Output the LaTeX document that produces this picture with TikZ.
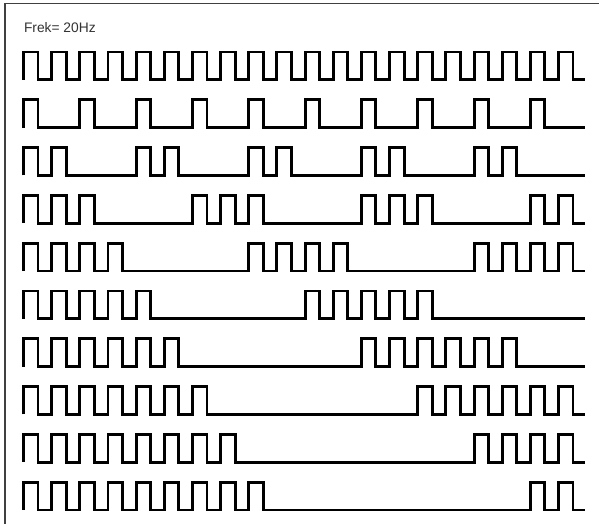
\documentclass[tikz,border=0pt]{standalone}
\usepackage{fontspec}
\setmainfont{Liberation Sans}
\begin{document}
\begin{tikzpicture}[x=1pt,y=-1pt,
  wave/.style={line width=2.9pt, line join=miter, draw=black},
  frame/.style={line width=1.4pt, draw=black!75},
  label/.style={anchor=base west, inner sep=0pt, text=black!80, font=\fontsize{13.8}{16}\selectfont}]
\useasboundingbox (0,0) rectangle (599,523);
\fill[white] (0,0) rectangle (599,523);
\draw[frame] (5,530) -- (5,3.5) -- (610,3.5);
\node[label] (title) at (23.8,32.3) {Frek= 20Hz};
\foreach \r in {1,...,10} {
  \pgfmathsetmacro\yt{52+(\r-1)*47.8}
  \pgfmathsetmacro\yb{\yt+27.8}
  \pgfmathtruncatemacro\n{max(\r-1,1)}
  \pgfmathtruncatemacro\per{max(2*(\r-1),1)}
  \xdef\wpath{(23.5,\yb)}
  \foreach \i in {0,...,19} {
    \pgfmathtruncatemacro\on{mod(\i,\per)<\n}
    \pgfmathsetmacro\xa{23.5+\i*28.16}
    \pgfmathsetmacro\xb{\xa+14.5}
    \pgfmathsetmacro\xc{ifthenelse(\i==19,585,\xa+28.16)}
    \ifnum\on=1
      \xdef\wpath{\wpath -- (\xa,\yt) -- (\xb,\yt) -- (\xb,\yb) -- (\xc,\yb)}
    \else
      \xdef\wpath{\wpath -- (\xc,\yb)}
    \fi
  }
  \draw[wave] \wpath;
}
\end{tikzpicture}
\end{document}
